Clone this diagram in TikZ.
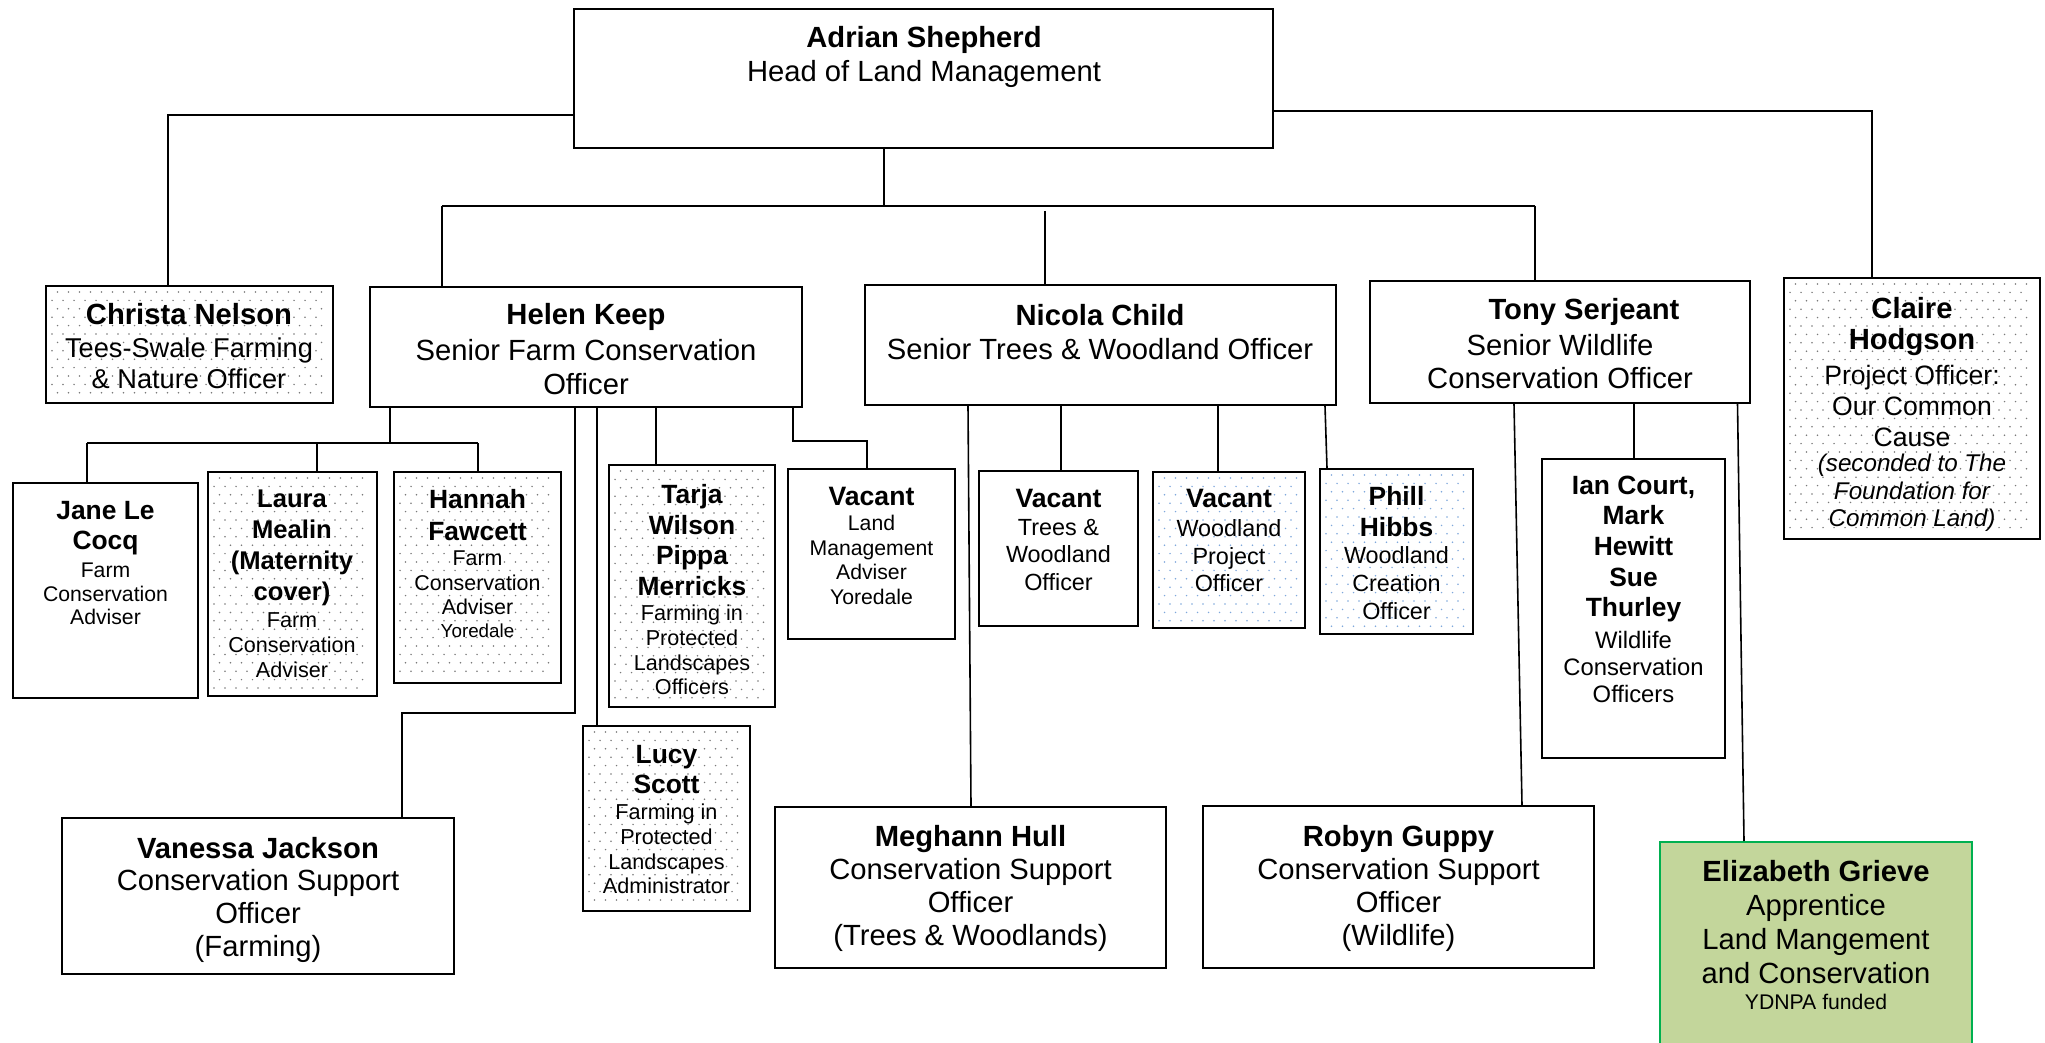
\documentclass[tikz,border=0pt]{standalone}
\usepackage{fontspec}
\setmainfont{Liberation Sans}
\definecolor{dotgrey}{HTML}{7A7A7A}
\definecolor{dotblue}{HTML}{7FA8DC}
\definecolor{egreen}{HTML}{C3D69B}
\definecolor{eborder}{HTML}{00B050}
\newcommand\fs[2]{\fontsize{#1}{#2}\selectfont}
\newcommand\bx[6]{%
  \node[box,#6,minimum width={(#4-#2)*0.5pt},minimum height={(#5-#3)*0.5pt}] (#1) at ({(#2+#4)/2},{(#3+#5)/2}) {};}
\newcommand\mydots[5]{%
  \pgfmathsetmacro\mdxa{#1+6}\pgfmathsetmacro\mdxb{#1+17}\pgfmathsetmacro\mdxc{#3-10}%
  \pgfmathsetmacro\mdya{#2+6}\pgfmathsetmacro\mdyb{#2+14.4}\pgfmathsetmacro\mdyc{#4-4}%
  \foreach \yy [count=\ri] in {\mdya,\mdyb,...,\mdyc}{%
    \pgfmathsetmacro\mdsh{mod(\ri,2)*5.5}%
    \foreach \xx in {\mdxa,\mdxb,...,\mdxc}{\fill[#5] ({\xx+\mdsh},\yy) circle[radius=0.85];}}}
\newcommand\tx[5]{\node[txt,font=#4] (#1) at (#2,#3) {#5};}
\begin{document}
\begin{tikzpicture}[x=0.5pt,y=-0.5pt,
  box/.style={draw=black, line width=1pt, fill=white, inner sep=0pt, rectangle},
  conn/.style={draw=black, line width=0.8pt},
  busline/.style={draw=black, line width=1.3pt},
  txt/.style={align=center, inner sep=0pt, text=black}]
\useasboundingbox[fill=white] (0,0) rectangle (2045,1043);

% ---- boxes
\bx{adrian}{574}{9}{1273}{148}{}
\bx{christa}{46}{286}{333}{403}{}
\bx{helen}{370}{287}{802}{407}{}
\bx{nicola}{865}{285}{1336}{405}{}
\bx{tony}{1370}{281}{1750}{403}{}
\bx{claire}{1784}{278}{2040}{539}{}
\bx{jane}{13}{483}{198}{698}{}
\bx{laura}{208}{472}{377}{696}{}
\bx{hannah}{394}{472}{561}{683}{}
\bx{tarja}{609}{465}{775}{707}{}
\bx{lma}{788}{469}{955}{639}{}
\bx{vanessa}{62}{818}{454}{974}{}
\bx{lucy}{583}{726}{750}{911}{}
\bx{meghann}{775}{807}{1166}{968}{}
\bx{tw}{979}{471}{1138}{626}{}
\bx{wpo}{1153}{472}{1305}{628}{}
\bx{phill}{1320}{469}{1473}{634}{}
\bx{ian}{1542}{459}{1725}{758}{}
\bx{robyn}{1203}{806}{1594}{968}{}
\bx{eliz}{1660}{842}{1972}{1070}{fill=egreen,draw=eborder}

% ---- dot fills
\mydots{46}{286}{333}{403}{dotgrey}
\mydots{208}{472}{377}{696}{dotgrey}
\mydots{394}{472}{561}{683}{dotgrey}
\mydots{609}{465}{775}{707}{dotgrey}
\mydots{583}{726}{750}{911}{dotgrey}
\mydots{1784}{278}{2040}{539}{dotgrey}
\mydots{1153}{472}{1305}{628}{dotblue}
\mydots{1320}{469}{1473}{634}{dotblue}

% ---- connectors
\coordinate (jA) at (168,115);
\coordinate (jB) at (1872,111);
\draw[busline] (adrian.west |- jA) -| (christa.north -| jA);
\draw[busline] (adrian.east |- jB) -| (claire.north -| jB);
\coordinate (bus) at (884,206);
\coordinate (busL) at (442,206);
\coordinate (busR) at (1535,206);
\coordinate (nicT) at (1045,211);
\draw[conn] (adrian.south -| bus) -- (bus);
\draw[busline] (busL) -- (busR);
\draw[conn] (busL) -- (helen.north -| busL);
\draw[conn] (busR) -- (tony.north -| busR);
\draw[conn] (nicT) -- (nicola.north -| nicT);

\coordinate (hA) at (390,443);
\coordinate (hL) at (87,443);
\coordinate (hM) at (317,443);
\coordinate (hR) at (478,443);
\draw[conn] (helen.south -| hA) -- (hA);
\draw[conn] (hL) -- (hR);
\draw[conn] (hL) -- (jane.north -| hL);
\draw[conn] (hM) -- (laura.north -| hM);
\draw[conn] (hR) -- (hannah.north -| hR);
\coordinate (tA) at (656,0);
\draw[conn] (helen.south -| tA) -- (tarja.north -| tA);
\coordinate (lA) at (793,441);
\coordinate (lB) at (867,441);
\draw[conn] (helen.south -| lA) -- (lA) -- (lB) -- (lma.north -| lB);
\coordinate (vA) at (575,713);
\coordinate (vB) at (402,713);
\draw[conn] (helen.south -| vA) -- (vA) -- (vB) -- (vanessa.north -| vB);
\coordinate (luA) at (597,0);
\draw[conn] (helen.south -| luA) -- (lucy.north -| luA);

\coordinate (mA) at (968,0);
\coordinate (mB) at (971,0);
\draw[conn] (nicola.south -| mA) -- (meghann.north -| mB);
\coordinate (twA) at (1061,0);
\draw[conn] (nicola.south -| twA) -- (tw.north -| twA);
\coordinate (wpA) at (1218,0);
\draw[conn] (nicola.south -| wpA) -- (wpo.north -| wpA);
\coordinate (phA) at (1325,0);
\coordinate (phB) at (1327,0);
\draw[conn] (nicola.south -| phA) -- (phill.north -| phB);

\coordinate (rA) at (1514,0);
\coordinate (rB) at (1522,0);
\draw[conn] (tony.south -| rA) -- (robyn.north -| rB);
\coordinate (iA) at (1634,0);
\draw[conn] (tony.south -| iA) -- (ian.north -| iA);
\coordinate (eA) at (1737.5,0);
\coordinate (eB) at (1744,0);
\draw[conn] (tony.south -| eA) -- (eliz.north -| eB);

% ---- texts
\tx{adrianN}{924}{40}{\bfseries\fs{14.6}{17}}{Adrian Shepherd}
\tx{adrianT}{924}{74}{\fs{14.6}{17}}{Head of Land Management}
\tx{christaN}{189}{314}{\bfseries\fs{14.6}{17}}{Christa Nelson}
\tx{christaT}{189}{363}{\fs{13.6}{15.5}}{Tees-Swale Farming\\\& Nature Officer}
\tx{helenN}{586}{317}{\bfseries\fs{14.6}{17}}{Helen Keep}
\tx{helenT}{586}{367}{\fs{14.6}{17}}{Senior Farm Conservation\\Officer}
\tx{nicolaN}{1100}{315}{\bfseries\fs{14.6}{17}}{Nicola Child}
\tx{nicolaT}{1100}{349}{\fs{14.6}{17}}{Senior Trees \& Woodland Officer}
\tx{tonyN}{1584}{312}{\bfseries\fs{14.6}{17}}{Tony Serjeant}
\tx{tonyT}{1560}{362}{\fs{14.6}{16.5}}{Senior Wildlife\\Conservation Officer}
\tx{claireN}{1912}{327}{\bfseries\fs{14.6}{15.5}}{Claire\\Hodgson}
\tx{claireT}{1912}{406}{\fs{13.3}{15.5}}{Project Officer:\\Our Common\\Cause}
\tx{claireI}{1912}{493}{\itshape\fs{12.1}{13.8}}{(seconded to The\\Foundation for\\Common Land)}

\tx{janeN}{105.5}{528}{\bfseries\fs{13.2}{15}}{Jane Le\\Cocq}
\tx{janeT}{105.5}{594}{\fs{10.6}{11.8}}{Farm\\Conservation\\Adviser}
\tx{lauraN}{292}{548}{\bfseries\fs{12.8}{15.6}}{Laura\\Mealin\\(Maternity\\cover)}
\tx{lauraT}{292}{645}{\fs{10.8}{12.5}}{Farm\\Conservation\\Adviser}
\tx{hannahN}{477.5}{515}{\bfseries\fs{13.2}{15.7}}{Hannah\\Fawcett}
\tx{hannahT}{477.5}{583}{\fs{10.7}{12.3}}{Farm\\Conservation\\Adviser}
\tx{hannahY}{477.5}{631}{\fs{9.4}{11}}{Yoredale}
\tx{tarjaN}{692}{540}{\bfseries\fs{13.2}{15.2}}{Tarja\\Wilson\\Pippa\\Merricks}
\tx{tarjaT}{692}{650}{\fs{10.8}{12.4}}{Farming in\\Protected\\Landscapes\\Officers}
\tx{lmaN}{871.5}{496}{\bfseries\fs{13.3}{15}}{Vacant}
\tx{lmaT}{871.5}{560}{\fs{10.6}{12.3}}{Land\\Management\\Adviser\\Yoredale}
\tx{vanessaN}{258}{848}{\bfseries\fs{14.6}{17}}{Vanessa Jackson}
\tx{vanessaT}{258}{916}{\fs{14.6}{16.6}}{Conservation Support\\Officer\\(Farming)}
\tx{lucyN}{666.5}{770}{\bfseries\fs{13.2}{15}}{Lucy\\Scott}
\tx{lucyT}{666.5}{849}{\fs{10.8}{12.4}}{Farming in\\Protected\\Landscapes\\Administrator}
\tx{meghannN}{970.5}{839}{\bfseries\fs{14.6}{17}}{Meghann Hull}
\tx{meghannT}{970.5}{905}{\fs{14.6}{16.6}}{Conservation Support\\Officer\\(Trees \& Woodlands)}
\tx{twN}{1058.5}{498}{\bfseries\fs{13.3}{15}}{Vacant}
\tx{twT}{1058.5}{555}{\fs{11.7}{13.7}}{Trees \&\\Woodland\\Officer}
\tx{wpoN}{1229}{498}{\bfseries\fs{13.3}{15}}{Vacant}
\tx{wpoT}{1229}{556}{\fs{11.7}{13.7}}{Woodland\\Project\\Officer}
\tx{phillN}{1396.5}{512}{\bfseries\fs{13.2}{15.5}}{Phill\\Hibbs}
\tx{phillT}{1396.5}{583}{\fs{11.7}{14}}{Woodland\\Creation\\Officer}
\tx{ianN}{1633.5}{549}{\bfseries\fs{13.2}{15.3}}{Ian Court,\\Mark\\Hewitt\\Sue\\Thurley}
\tx{ianT}{1633.5}{667}{\fs{11.9}{13.6}}{Wildlife\\Conservation\\Officers}
\tx{robynN}{1398.5}{839}{\bfseries\fs{14.6}{17}}{Robyn Guppy}
\tx{robynT}{1398.5}{905}{\fs{14.6}{16.6}}{Conservation Support\\Officer\\(Wildlife)}
\tx{elizN}{1816}{871}{\bfseries\fs{14.6}{17}}{Elizabeth Grieve}
\tx{elizT}{1816}{939}{\fs{14.6}{17}}{Apprentice\\Land Mangement\\and Conservation}
\tx{elizY}{1816}{1002}{\fs{10.6}{12}}{YDNPA funded}
\end{tikzpicture}
\end{document}
